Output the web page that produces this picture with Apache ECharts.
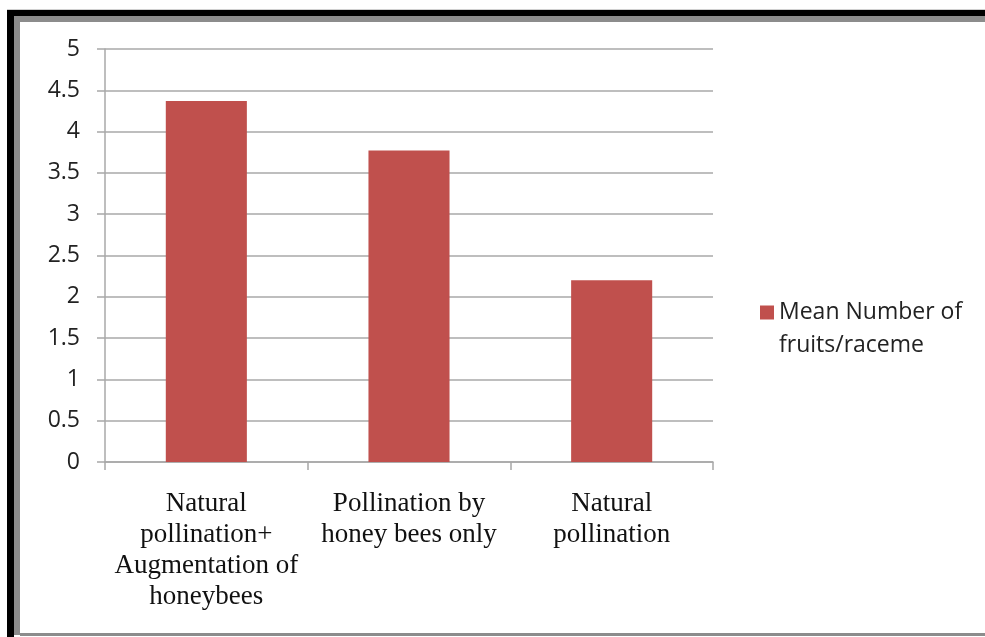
<!DOCTYPE html>
<html>
<head>
<meta charset="utf-8">
<script src="https://cdn.jsdelivr.net/npm/echarts@6/dist/echarts.min.js"></script>
<style>
html,body{margin:0;padding:0;background:#fff;}
#chart{width:985px;height:637px;}
</style>
</head>
<body>
<div id="chart"></div>
<script>
var categories = ["Natural\npollination+\nAugmentation of\nhoneybees", "Pollination by\nhoney bees only", "Natural\npollination"];
var seriesName = "Mean Number of\nfruits/raceme";
var values = [4.37, 3.77, 2.2];
var yTicks = [0, 0.5, 1, 1.5, 2, 2.5, 3, 3.5, 4, 4.5, 5];

var chart = echarts.init(document.getElementById('chart'));
var gridColor = '#a8a8a8';
chart.setOption({
  animation: false,
  backgroundColor: '#ffffff',
  graphic: [
    {type:'rect', shape:{x:7,y:10,width:7,height:627}, style:{fill:'#000'}, z:100},
    {type:'rect', shape:{x:7,y:10,width:978,height:6}, style:{fill:'#000'}, z:100},
    {type:'rect', shape:{x:14,y:16,width:6,height:619}, style:{fill:'#8c8c8c'}, z:100},
    {type:'rect', shape:{x:14,y:16,width:971,height:6}, style:{fill:'#8c8c8c'}, z:100},
    {type:'rect', shape:{x:20,y:633,width:965,height:3}, style:{fill:'#8c8c8c'}, z:100},
    {type:'rect', shape:{x:7,y:9,width:978,height:1}, style:{fill:'#d0d0d0'}, z:100}
  ],
  grid: {left:105, right:272, top:49, bottom:175, containLabel:false},
  legend: {
    show: true,
    left: 755,
    top: 258,
    orient: 'vertical',
    itemWidth: 14,
    itemHeight: 14,
    itemGap: 8,
    icon: 'rect',
    data: [seriesName],
    formatter: function(name){ return '\n' + name; },
    textStyle: {
      fontFamily: 'Open Sans',
      fontSize: 23,
      color: '#222',
      lineHeight: 33
    }
  },
  xAxis: {
    type: 'category',
    data: categories,
    axisLine: {show:true, lineStyle:{color:gridColor, width:1.5}},
    axisTick: {show:true, length:8, lineStyle:{color:gridColor, width:1.5}},
    axisLabel: {
      margin: 26,
      fontFamily: 'Liberation Serif',
      fontSize: 27,
      lineHeight: 31,
      color: '#111',
      interval: 0
    },
    splitLine: {show:false}
  },
  yAxis: {
    type: 'value',
    min: 0,
    max: 5,
    interval: 0.5,
    axisLine: {show:true, lineStyle:{color:gridColor, width:1.5}},
    axisTick: {show:true, length:8, lineStyle:{color:gridColor, width:1.5}},
    axisLabel: {
      margin: 25,
      fontFamily: 'Open Sans',
      fontSize: 23,
      color: '#222',
      formatter: function(v){ return yTicks.indexOf(v) >= 0 ? String(v) : ''; }
    },
    splitLine: {show:true, lineStyle:{color:gridColor, width:1.5}}
  },
  series: [{
    name: seriesName,
    type: 'bar',
    data: values,
    barWidth: '40%',
    itemStyle: {color:'#C0504D'}
  }]
});
</script>
</body>
</html>
